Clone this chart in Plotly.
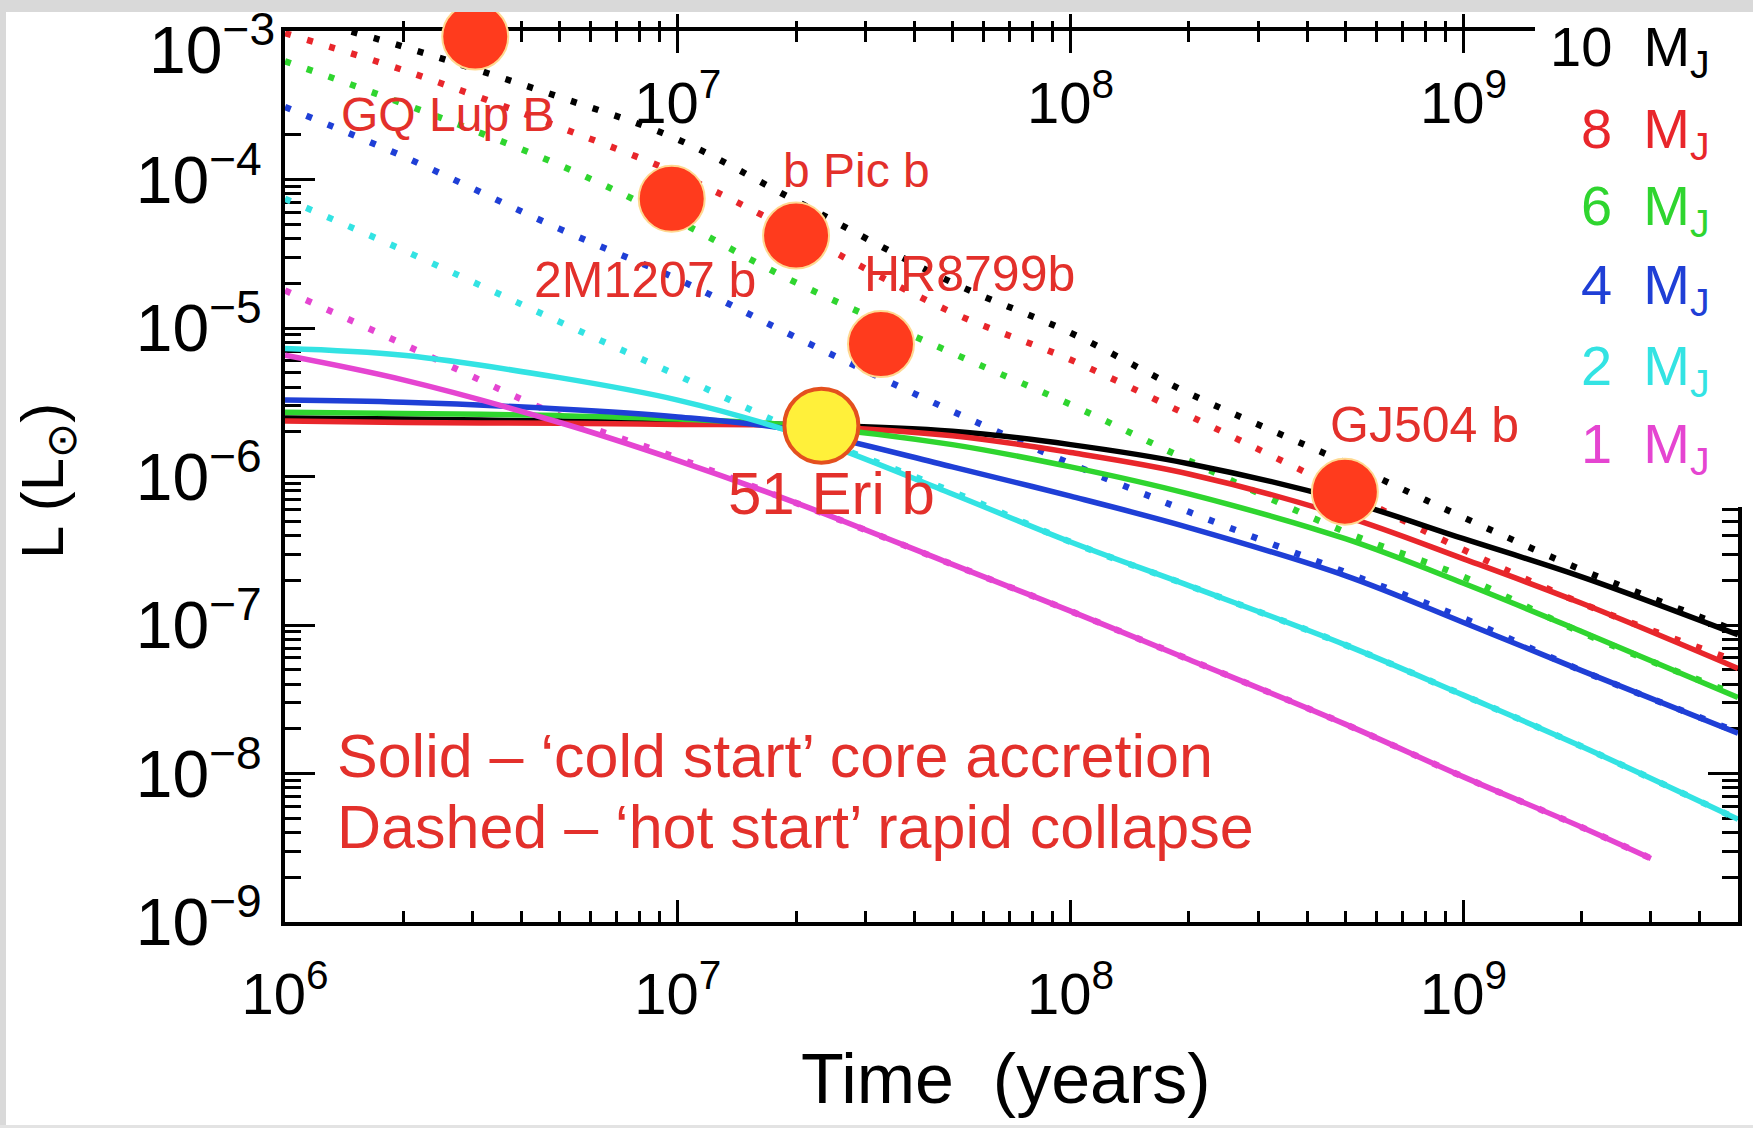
import numpy as np
import plotly.graph_objects as go

# ---------------------------------------------------------------- data
# model ages (years)
AGE = [1e6, 2e6, 5e6, 1e7, 2e7, 5e7, 1e8, 2e8, 5e8, 1e9, 2e9, 5e9]
AGE_1MJ = [1e6, 2e6, 5e6, 1e7, 2e7, 5e7, 1e8, 2e8, 5e8, 1e9, 2e9, 3e9]

MASSES = ["10", "8", "6", "4", "2", "1"]
COLORS = ["#000000", "#e8262b", "#2fd52f", "#1f3fd6", "#33e3e3", "#e545d1"]

# luminosity (L_sun), 'cold start' core accretion
COLD_10 = [2.48e-6, 2.44e-6, 2.36e-6, 2.31e-6, 2.24e-6, 2.02e-6, 1.64e-6, 1.22e-6, 6.88e-7, 3.81e-7, 2.11e-7, 8.59e-8]
COLD_8 = [2.36e-6, 2.31e-6, 2.28e-6, 2.24e-6, 2.20e-6, 1.88e-6, 1.45e-6, 1.04e-6, 5.39e-7, 2.79e-7, 1.40e-7, 5.10e-8]
COLD_6 = [2.71e-6, 2.66e-6, 2.57e-6, 2.44e-6, 2.20e-6, 1.64e-6, 1.16e-6, 7.63e-7, 3.81e-7, 1.91e-7, 9.04e-8, 3.25e-8]
COLD_4 = [3.27e-6, 3.16e-6, 2.85e-6, 2.52e-6, 2.05e-6, 1.16e-6, 7.37e-7, 4.53e-7, 2.15e-7, 1.04e-7, 4.93e-8, 1.87e-8]
COLD_2 = [7.27e-6, 6.55e-6, 4.63e-6, 3.27e-6, 1.95e-6, 7.63e-7, 3.62e-7, 1.84e-7, 7.35e-8, 3.37e-8, 1.52e-8, 4.91e-9]
COLD_1 = [6.55e-6, 4.47e-6, 2.31e-6, 1.28e-6, 6.64e-7, 2.56e-7, 1.24e-7, 5.86e-8, 2.15e-8, 9.49e-9, 4.35e-9, 2.68e-9]

# luminosity (L_sun), 'hot start' rapid collapse
HOT_10 = [1.32e-3, 7.84e-4, 3.59e-4, 1.86e-4, 7.17e-5, 2.02e-5, 9.27e-6, 3.63e-6, 1.24e-6, 5.30e-7, 2.35e-7, 9.04e-8]
HOT_8 = [9.66e-4, 5.45e-4, 2.25e-4, 1.09e-4, 4.41e-5, 1.27e-5, 6.11e-6, 2.57e-6, 7.90e-7, 3.21e-7, 1.40e-7, 5.66e-8]
HOT_6 = [6.26e-4, 3.24e-4, 1.25e-4, 5.25e-5, 2.02e-5, 6.78e-6, 3.05e-6, 1.28e-6, 4.23e-7, 2.11e-7, 8.89e-8, 3.37e-8]
HOT_4 = [3.08e-4, 1.43e-4, 4.65e-5, 2.13e-5, 8.64e-6, 2.75e-6, 1.22e-6, 5.78e-7, 2.27e-7, 1.11e-7, 4.93e-8, 1.90e-8]
HOT_2 = [7.42e-5, 3.34e-5, 1.10e-5, 4.79e-6, 2.05e-6, 7.90e-7, 3.62e-7, 1.84e-7, 7.35e-8, 3.37e-8, 1.52e-8, 4.91e-9]
HOT_1 = [1.79e-5, 7.79e-6, 2.57e-6, 1.33e-6, 6.64e-7, 2.56e-7, 1.24e-7, 5.86e-8, 2.15e-8, 9.49e-9, 4.35e-9, 2.68e-9]

COLD = [COLD_10, COLD_8, COLD_6, COLD_4, COLD_2, COLD_1]
HOT = [HOT_10, HOT_8, HOT_6, HOT_4, HOT_2, HOT_1]
AGES = [AGE, AGE, AGE, AGE, AGE, AGE_1MJ]

# directly imaged companions
PLANET_NAMES = ["GQ Lup B", "2M1207 b", "b Pic b", "HR8799b", "51 Eri b", "GJ504 b"]
PLANET_AGE = [3.05e6, 9.65e6, 2.0e7, 3.29e7, 2.32e7, 4.99e8]
PLANET_LUM = [9.17e-4, 7.42e-5, 4.19e-5, 7.79e-6, 2.20e-6, 7.90e-7]

# axis ticks
T_MIN, T_MAX = 1e6, 5e9
L_MIN, L_MAX = 1e-9, 1e-3
X_MAJOR = [1e6, 1e7, 1e8, 1e9]
X_MAJOR_TEXT = ["10<sup>6</sup>", "10<sup>7</sup>", "10<sup>8</sup>", "10<sup>9</sup>"]
TOP_MAJOR = [1e7, 1e8, 1e9]
TOP_MAJOR_TEXT = ["10<sup>7</sup>", "10<sup>8</sup>", "10<sup>9</sup>"]
Y_MAJOR = [1e-9, 1e-8, 1e-7, 1e-6, 1e-5, 1e-4, 1e-3]
Y_MAJOR_TEXT = ["10<sup>−9</sup>", "10<sup>−8</sup>", "10<sup>−7</sup>", "10<sup>−6</sup>",
                "10<sup>−5</sup>", "10<sup>−4</sup>", "10<sup>−3</sup>"]

X_MINOR = [m * 10.0 ** e for e in range(6, 10) for m in range(2, 10) if m * 10.0 ** e <= T_MAX]
Y_MINOR = [m * 10.0 ** e for e in range(-9, -3) for m in range(2, 10)]

# ---------------------------------------------------------------- styling
FONT = "Liberation Sans"
RED_TEXT = "#e3302b"
W, H = 1753, 1128
ML, MR, MT, MB = 285, 15, 31, 206
PW, PH = W - ML - MR, H - MT - MB
Y_TICK_SIZE = 66


def px_x(p):
    """page pixel column -> paper x"""
    return (p - ML) / PW


def px_y(p):
    """page pixel row -> paper y"""
    return (H - MB - p) / PH


fig = go.Figure()

# hot start tracks (dotted)
for ages, lum, col in zip(AGES, HOT, COLORS):
    fig.add_trace(go.Scatter(
        x=ages, y=lum, mode="lines",
        line=dict(color=col, width=6.5, dash="6px,17px", shape="spline", smoothing=1.0),
        hoverinfo="skip", showlegend=False))

# cold start tracks (solid)
for ages, lum, col in zip(AGES, COLD, COLORS):
    fig.add_trace(go.Scatter(
        x=ages, y=lum, mode="lines",
        line=dict(color=col, width=5.5, shape="spline", smoothing=1.0),
        hoverinfo="skip", showlegend=False))

# companions
is_eri = [n == "51 Eri b" for n in PLANET_NAMES]
fig.add_trace(go.Scatter(
    x=PLANET_AGE, y=PLANET_LUM, mode="markers", cliponaxis=False,
    marker=dict(color=["#fff03a" if e else "#ff3b1d" for e in is_eri],
                size=[74 if e else 66 for e in is_eri],
                opacity=1,
                line=dict(color=["#e4501e" if e else "#ffd890" for e in is_eri],
                          width=[4 if e else 2 for e in is_eri])),
    hoverinfo="skip", showlegend=False))

# invisible trace to carry the top axis
fig.add_trace(go.Scatter(x=[T_MIN], y=[L_MIN], xaxis="x2", mode="markers",
                         marker=dict(opacity=0), hoverinfo="skip", showlegend=False))

# planet labels (offsets in px from each marker)
LABEL_SHIFT = {
    "GQ Lup B": (-28, -78, 48),
    "2M1207 b": (-27, -81, 50),
    "b Pic b": (60, 65, 48),
    "HR8799b": (89, 70, 50),
    "51 Eri b": (10, -68, 60),
    "GJ504 b": (80, 67, 50),
}
for name, t, l in zip(PLANET_NAMES, PLANET_AGE, PLANET_LUM):
    dx, dy, fs = LABEL_SHIFT[name]
    fig.add_annotation(x=np.log10(t), y=np.log10(l), xref="x", yref="y",
                       text=name, showarrow=False, xshift=dx, yshift=dy,
                       font=dict(family=FONT, size=fs, color=RED_TEXT))

# the top decade label sits at the very edge of the frame, so it is placed by hand
fig.add_annotation(x=px_x(277), y=np.log10(Y_MAJOR[-1]), xref="paper", yref="y",
                   xanchor="right", yanchor="middle", yshift=-14,
                   text=Y_MAJOR_TEXT[-1], showarrow=False,
                   font=dict(family=FONT, size=Y_TICK_SIZE, color="black"))

# key for line styles
fig.add_annotation(x=px_x(335), y=px_y(756), xref="paper", yref="paper", xanchor="left", yanchor="middle",
                   text="Solid – ‘cold start’ core accretion", showarrow=False,
                   font=dict(family=FONT, size=61, color=RED_TEXT))
fig.add_annotation(x=px_x(335), y=px_y(827), xref="paper", yref="paper", xanchor="left", yanchor="middle",
                   text="Dashed – ‘hot start’ rapid collapse", showarrow=False,
                   font=dict(family=FONT, size=61, color=RED_TEXT))

# axis titles
fig.add_annotation(x=px_x(1006), y=px_y(1079), xref="paper", yref="paper", xanchor="center", yanchor="middle",
                   text="Time  (years)", showarrow=False,
                   font=dict(family=FONT, size=70, color="black"))
fig.add_annotation(x=px_x(47), y=px_y(481), xref="paper", yref="paper", xanchor="center", yanchor="middle",
                   text="L (L<sub>⊙</sub>)", textangle=-90, showarrow=False,
                   font=dict(family=FONT, size=60, color="black"))

# mass key, top right
KEY_Y = [50, 132, 210, 288, 369, 447]
for m, col, ypx in zip(MASSES, COLORS, KEY_Y):
    fig.add_annotation(x=px_x(1712), y=px_y(ypx),
                       xref="paper", yref="paper", xanchor="right", yanchor="middle",
                       text=f"{m}  M<sub>J</sub>", showarrow=False,
                       font=dict(family=FONT, size=56, color=col))

shapes = [
    # white backdrop behind the mass key
    dict(type="rect", xref="paper", yref="paper", x0=px_x(1535), x1=px_x(W + 5),
         y0=px_y(507), y1=px_y(-5), fillcolor="white", line=dict(width=0), layer="above"),
    # grey frame
    dict(type="rect", xref="paper", yref="paper", x0=px_x(-5), x1=px_x(W + 5),
         y0=px_y(12), y1=px_y(-5), fillcolor="#d9d9d9", line=dict(width=0), layer="above"),
    dict(type="rect", xref="paper", yref="paper", x0=px_x(-5), x1=px_x(6),
         y0=px_y(H + 5), y1=px_y(-5), fillcolor="#d9d9d9", line=dict(width=0), layer="above"),
    dict(type="rect", xref="paper", yref="paper", x0=px_x(-5), x1=px_x(W + 5),
         y0=px_y(H + 5), y1=px_y(H - 3), fillcolor="#e3e3e3", line=dict(width=0), layer="above"),
]

x_range = [np.log10(T_MIN), np.log10(T_MAX)]
# tiny padding so the end decades survive floating-point round-off
y_range = [np.log10(L_MIN) - 1e-6, np.log10(L_MAX) + 1e-6]

fig.update_layout(
    width=W, height=H, margin=dict(l=ML, r=MR, t=MT, b=MB, autoexpand=False),
    paper_bgcolor="white", plot_bgcolor="white",
    font=dict(family=FONT, color="black"),
    shapes=shapes,
    xaxis=dict(type="log", range=x_range, showgrid=False, zeroline=False, automargin=False,
               showline=True, linecolor="black", linewidth=4, mirror="ticks",
               ticks="inside", ticklen=22, tickwidth=3, tickcolor="black",
               tickvals=X_MAJOR, ticktext=X_MAJOR_TEXT, ticklabelstandoff=18,
               tickfont=dict(family=FONT, size=58, color="black"),
               minor=dict(tickvals=X_MINOR, ticks="inside", ticklen=11, tickwidth=3,
                          tickcolor="black", showgrid=False),
               layer="below traces"),
    xaxis2=dict(type="log", range=x_range, overlaying="x", anchor="y", side="top",
                showgrid=False, zeroline=False, showline=False, automargin=False,
                ticks="outside", ticklen=16, tickwidth=3, tickcolor="black",
                tickvals=TOP_MAJOR, ticktext=TOP_MAJOR_TEXT,
                ticklabelposition="inside", ticklabelstandoff=48,
                tickfont=dict(family=FONT, size=58, color="black"),
                minor=dict(tickvals=X_MINOR, ticks="outside", ticklen=9, tickwidth=3,
                           tickcolor="black", showgrid=False),
                layer="below traces"),
    yaxis=dict(type="log", range=y_range, showgrid=False, zeroline=False, automargin=False,
               showline=True, linecolor="black", linewidth=4, mirror="ticks",
               ticks="inside", ticklen=30, tickwidth=3, tickcolor="black",
               tickvals=Y_MAJOR, ticktext=Y_MAJOR_TEXT[:-1] + [""], ticklabelstandoff=6,
               tickfont=dict(family=FONT, size=Y_TICK_SIZE, color="black"),
               minor=dict(tickvals=Y_MINOR, ticks="inside", ticklen=16, tickwidth=3,
                          tickcolor="black", showgrid=False),
               layer="below traces"),
)

fig.write_html("out.html")
